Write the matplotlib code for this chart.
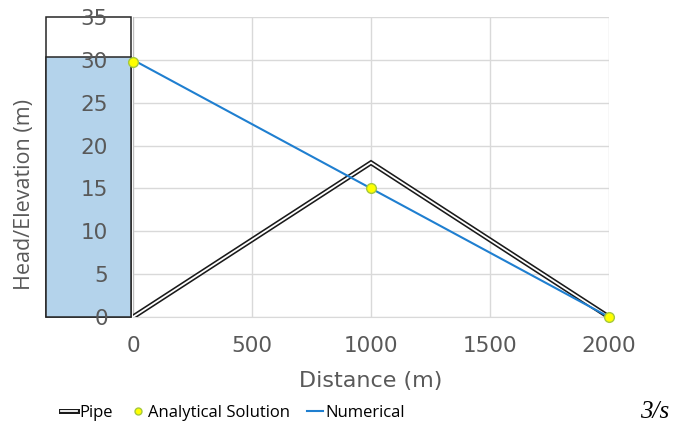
import matplotlib.pyplot as plt
from matplotlib.patches import Rectangle
from matplotlib.lines import Line2D
from matplotlib.legend_handler import HandlerTuple

# pipe profile
pipe_x = [0, 1000, 2000]
pipe_z = [0, 18, 0]

# analytical hydraulic grade
ana_x = [0, 1000, 2000]
ana_h = [29.8, 15, 0]

# numerical hydraulic grade
num_x = [0, 2000]
num_h = [30, 0]

# upstream reservoir level
res_level = 30.3
res_top = 35

plt.rcParams['font.family'] = ['Open Sans', 'DejaVu Sans']

fig = plt.figure(figsize=(6.73, 4.28), dpi=100)
ax = fig.add_axes([133/673, 1 - 317/428, (609 - 133)/673, 300/428])

grid_c = '#d9d9d9'
tick_c = '#595959'
ax.set_xlim(0, 2000)
ax.set_ylim(0, 35)
ax.set_xticks([0, 500, 1000, 1500, 2000])
ax.set_yticks(range(0, 36, 5))
ax.grid(True, color=grid_c, lw=1)
ax.set_axisbelow(True)
for s in ['top', 'right']:
    ax.spines[s].set_visible(False)
ax.spines['left'].set_color('#bfbfbf')
ax.spines['bottom'].set_color(grid_c)
ax.tick_params(length=0, colors=tick_c, labelsize=15.5)
ax.tick_params(axis='x', pad=14)
ax.tick_params(axis='y', pad=18)
for lab in ax.get_xticklabels() + ax.get_yticklabels():
    lab.set_family('DejaVu Sans')
ax.set_xlabel('Distance (m)', color=tick_c, fontsize=16, family='DejaVu Sans')
ax.xaxis.set_label_coords(0.5, (317 - 381) / 300)
ax.xaxis.label.set_va('center')
ax.set_ylabel('Head/Elevation (m)', color=tick_c, fontsize=15.5)
ax.yaxis.set_label_coords((25 - 133) / 476, (317 - 195) / 300)
ax.yaxis.label.set_va('center')

# reservoir drawn to the left of the axis, under the tick labels
ax.add_patch(Rectangle((-366, 0), 358, res_top, facecolor='white',
                       edgecolor='#262626', lw=1.1, clip_on=False, zorder=0.1))
ax.add_patch(Rectangle((-366, 0), 358, res_level, facecolor='#b4d3eb',
                       edgecolor='#262626', lw=1.1, clip_on=False, zorder=0.2))

# pipe as a double line
ax.plot(pipe_x, pipe_z, color='#1a1a1a', lw=3.6, solid_joinstyle='miter', zorder=3)
ax.plot(pipe_x, pipe_z, color='white', lw=1.3, solid_joinstyle='miter', zorder=3)

ax.plot(num_x, num_h, color='#1f7fd0', lw=1.5, zorder=4, clip_on=False)
ax.plot(ana_x, ana_h, 'o', ms=7, mfc='#ffff00', mec='#a6c83c', mew=1,
        zorder=5, clip_on=False)

pipe_h = [Line2D([0], [0], color='#1a1a1a', lw=3.6),
          Line2D([0], [0], color='white', lw=1.3)]
handles = [tuple(pipe_h),
           Line2D([0], [0], marker='o', ls='', ms=5, mfc='#ffff00', mec='#a6c83c'),
           Line2D([0], [0], color='#1f7fd0', lw=1.5)]
fig.legend(handles, ['Pipe', 'Analytical Solution', 'Numerical'],
           handler_map={tuple: HandlerTuple(ndivide=1)},
           loc='center', bbox_to_anchor=(233/673, 1 - 413/428), ncol=3,
           frameon=False, fontsize=12, handlelength=0.95, handletextpad=0.15,
           columnspacing=1.0)

fig.text(640/673, 1 - 412/428, '3/s', family='Liberation Serif',
         style='italic', fontsize=18, ha='left', va='center')

fig.savefig('out.png', dpi=100)
